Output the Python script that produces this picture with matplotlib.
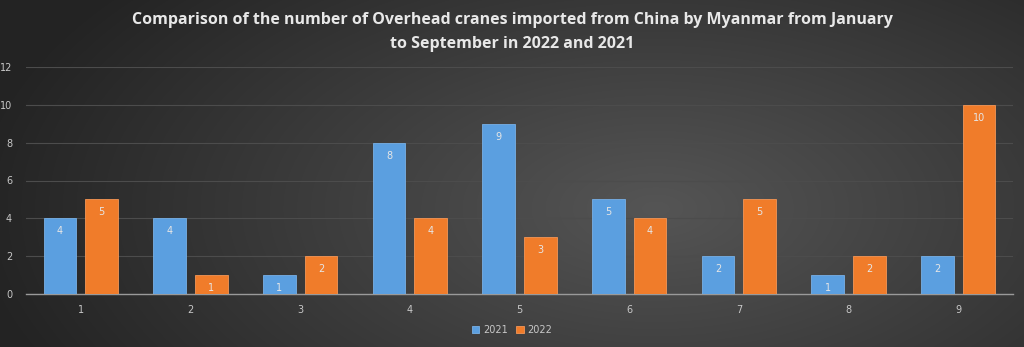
import numpy as np
import matplotlib
matplotlib.use("Agg")
import matplotlib.pyplot as plt

months = ["1", "2", "3", "4", "5", "6", "7", "8", "9"]
v2021 = [4, 4, 1, 8, 9, 5, 2, 1, 2]
v2022 = [5, 1, 2, 4, 3, 4, 5, 2, 10]
yticks = [0, 2, 4, 6, 8, 10, 12]
title = ("Comparison of the number of Overhead cranes imported from China by Myanmar from January\n"
         "to September in 2022 and 2021")

W, H = 1024, 347
fig = plt.figure(figsize=(W / 100, H / 100), dpi=100)

# background radial gradient
bg = fig.add_axes([0, 0, 1, 1])
yy, xx = np.mgrid[0:H, 0:W]
cx, cy = 0.64 * W, 0.6 * H
r = np.sqrt(((xx - cx) / (0.66 * W)) ** 2 + ((yy - cy) / (1.0 * H)) ** 2)
r = np.clip(r, 0, 1)
inner = np.array([0x55, 0x55, 0x55]) / 255
outer = np.array([0x24, 0x24, 0x24]) / 255
img = inner[None, None, :] * (1 - r[..., None]) + outer[None, None, :] * r[..., None]
bg.imshow(img, aspect="auto", extent=[0, 1, 0, 1], origin="upper")
bg.axis("off")

ax = fig.add_axes([26 / W, 1 - 294 / H, (1013 - 26) / W, (294 - 67) / H])
ax.set_facecolor("none")
x = np.arange(len(months))
bw = 0.30
off = 0.19
b1 = ax.bar(x - off, v2021, bw, color="#5b9fe0", edgecolor="#78b0e6", linewidth=0.6, label="2021", zorder=3)
b2 = ax.bar(x + off, v2022, bw, color="#f07c2a", edgecolor="#f49656", linewidth=0.6, label="2022", zorder=3)

for bars, vals in ((b1, v2021), (b2, v2022)):
    for rect, v in zip(bars, vals):
        ax.text(rect.get_x() + rect.get_width() / 2, v - 0.42, str(v), ha="center", va="top",
                fontsize=7, color="#e6e6e6", zorder=4)

ax.set_xlim(-0.5, len(months) - 0.5)
ax.set_ylim(0, 12)
ax.set_yticks(yticks)
ax.set_xticks(x)
ax.set_xticklabels(months)
ax.tick_params(axis="both", length=0, colors="#c8c8c8", labelsize=7)
ax.tick_params(axis="y", pad=10)
ax.tick_params(axis="x", pad=8)
ax.grid(axis="y", color="#4c4c4c", linewidth=0.8, zorder=0)
for s in ["top", "right", "left"]:
    ax.spines[s].set_visible(False)
ax.spines["bottom"].set_color("#9a9a9a")
ax.spines["bottom"].set_linewidth(1)

fig.text(0.5, 1 - 32 / H, title, ha="center", va="center", fontsize=11.5, fontweight="bold",
         color="#e8e8e8", family="Open Sans", linespacing=1.7)

leg = fig.legend(handles=[b1, b2], labels=["2021", "2022"], loc="center", bbox_to_anchor=(0.5, 1 - 330 / H),
                 ncol=2, frameon=False, fontsize=7, handlelength=0.8, handleheight=0.8,
                 handletextpad=0.4, columnspacing=0.8)
for t in leg.get_texts():
    t.set_color("#c8c8c8")

fig.savefig("out.png", dpi=100)
